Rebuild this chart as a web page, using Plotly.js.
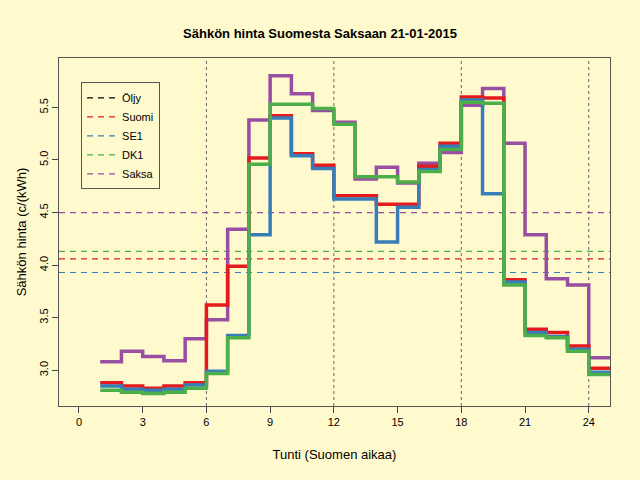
<!DOCTYPE html>
<html>
<head>
<meta charset="utf-8">
<script src="https://cdn.plot.ly/plotly-3.0.1.min.js"></script>
<style>body{margin:0;background:#FFFACD;}</style>
</head>
<body>
<div id="plot" style="width:640px;height:480px;"></div>
<script>
// hours 1..25, step plot (value holds until next hour)
const hours = [1,2,3,4,5,6,7,8,9,10,11,12,13,14,15,16,17,18,19,20,21,22,23,24,25];
const suomi = [2.88,2.85,2.83,2.85,2.88,3.62,3.99,5.02,5.42,5.06,4.95,4.66,4.66,4.58,4.58,4.94,5.16,5.60,5.59,3.86,3.39,3.36,3.23,3.02,3.02];
const se1   = [2.85,2.82,2.81,2.82,2.86,2.99,3.33,4.29,5.40,5.04,4.92,4.63,4.63,4.22,4.55,4.91,5.13,5.57,4.68,3.84,3.36,3.32,3.20,2.98,2.98];
const dk1   = [2.81,2.79,2.78,2.79,2.83,2.97,3.31,4.96,5.53,5.53,5.49,5.34,4.84,4.84,4.79,4.89,5.10,5.55,5.54,3.81,3.33,3.31,3.18,2.96,2.96];
const saksa = [3.08,3.18,3.13,3.09,3.30,3.48,4.34,5.38,5.80,5.63,5.47,5.36,4.82,4.93,4.78,4.97,5.07,5.52,5.68,5.16,4.29,3.87,3.81,3.12,3.12];

const seriesNames = ["Öljy", "Suomi", "SE1", "DK1", "Saksa"];
const seriesColors = ["#000000", "#E41A1C", "#377EB8", "#4DAF4A", "#984EA3"];
const averages = [null, 4.06, 3.93, 4.13, 4.50];
const xEnds = [-0.94, 25];

let data = [];
// dashed average lines (also give the legend)
seriesNames.forEach(function (name, i) {
    data.push({
        name: name,
        x: averages[i] === null ? [null] : xEnds,
        y: averages[i] === null ? [null] : [averages[i], averages[i]],
        mode: 'lines',
        line: {color: seriesColors[i], width: 1.2, dash: '6px,5px'},
        hoverinfo: 'skip',
    });
});
[[suomi, 1], [se1, 2], [dk1, 3], [saksa, 4]].forEach(function (s) {
    data.push({
        x: hours,
        y: s[0],
        mode: 'lines',
        line: {shape: 'hv', color: seriesColors[s[1]], width: 3.5},
        showlegend: false,
    });
});
// order draw: saksa under others like reference
data = data.slice(0, 5).concat([data[8], data[5], data[6], data[7]]);

let layout = {
    width: 640,
    height: 480,
    paper_bgcolor: '#FFFACD',
    plot_bgcolor: '#FFFACD',
    font: {family: 'Liberation Sans, Arial, sans-serif', size: 11, color: '#000'},
    margin: {l: 59, r: 30, t: 58, b: 74},
    title: {text: '<b>Sähkön hinta Suomesta Saksaan 21-01-2015</b>', x: 0.5, y: 0.94, font: {size: 13}},
    showlegend: true,
    legend: {
        x: 0.04, y: 0.93, xanchor: 'left', yanchor: 'top',
        bgcolor: '#FFFACD', bordercolor: '#555', borderwidth: 1,
        font: {size: 11}, tracegroupgap: 0,
    },
    xaxis: {
        range: xEnds,
        tickvals: [0, 3, 6, 9, 12, 15, 18, 21, 24],
        ticks: 'outside', ticklen: 6,
        showgrid: false, zeroline: false,
        showline: true, mirror: true, linecolor: '#555',
        title: {text: 'Tunti (Suomen aikaa)', standoff: 22},
    },
    yaxis: {
        range: [2.66, 5.97],
        tickvals: [3.0, 3.5, 4.0, 4.5, 5.0, 5.5],
        ticktext: ['3.0', '3.5', '4.0', '4.5', '5.0', '5.5'],
        tickangle: -90,
        ticks: 'outside', ticklen: 6,
        showgrid: false, zeroline: false,
        showline: true, mirror: true, linecolor: '#555',
        title: {text: 'Sähkön hinta (c/(kWh)', standoff: 8},
    },
    shapes: [6, 12, 18, 24].map(function (h) {
        return {
            type: 'line', xref: 'x', yref: 'paper',
            x0: h, x1: h, y0: 0, y1: 1,
            line: {color: '#666', width: 1, dash: 'dot'},
            layer: 'below',
        };
    }),
};

Plotly.newPlot('plot', data, layout, {staticPlot: true});
</script>
</body>
</html>
